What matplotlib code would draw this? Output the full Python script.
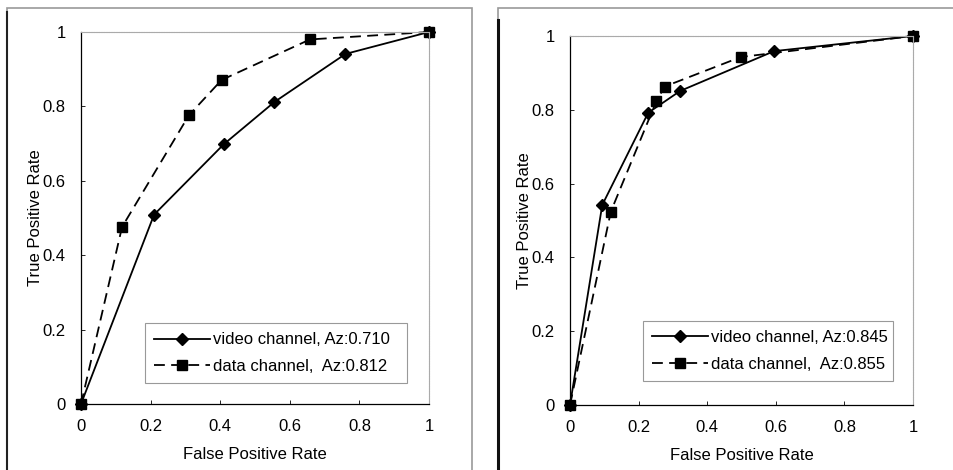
import matplotlib
matplotlib.use("Agg")
import matplotlib.pyplot as plt
from matplotlib.patches import Rectangle

plt.rcParams['font.family'] = ['Liberation Sans', 'DejaVu Sans']
plt.rcParams['font.size'] = 12

# ROC points
left_video_fpr = [0.0, 0.21, 0.41, 0.556, 0.76, 1.0]
left_video_tpr = [0.0, 0.509, 0.698, 0.812, 0.941, 1.0]
left_data_fpr = [0.0, 0.118, 0.31, 0.404, 0.658, 1.0]
left_data_tpr = [0.0, 0.476, 0.776, 0.871, 0.980, 1.0]

right_video_fpr = [0.0, 0.094, 0.228, 0.321, 0.595, 1.0]
right_video_tpr = [0.0, 0.542, 0.792, 0.851, 0.959, 1.0]
right_data_fpr = [0.0, 0.119, 0.252, 0.276, 0.498, 1.0]
right_data_tpr = [0.0, 0.524, 0.824, 0.863, 0.943, 1.0]

left_labels = ["video channel, Az:0.710", "data channel,  Az:0.812"]
right_labels = ["video channel, Az:0.845", "data channel,  Az:0.855"]

ticks = [0, 0.2, 0.4, 0.6, 0.8, 1]
tick_labels = ["0", "0.2", "0.4", "0.6", "0.8", "1"]

W, H = 954, 470
fig = plt.figure(figsize=(W / 100, H / 100), dpi=100)

# outer frames around each panel
fig.patches.append(Rectangle((7 / W, -0.1), (472 - 7) / W, 1.1 - 8 / H,
                             transform=fig.transFigure, fill=False,
                             edgecolor='#999999', lw=1.2))
fig.add_artist(plt.Line2D([7 / W, 7 / W], [0, 1 - 12 / H], color='#222222', lw=1.5))
fig.patches.append(Rectangle((498 / W, -0.1), 0.6, 1.1 - 8 / H,
                             transform=fig.transFigure, fill=False,
                             edgecolor='#999999', lw=1.2))
fig.add_artist(plt.Line2D([498 / W, 498 / W], [0, 1 - 20 / H], color='#111111', lw=2.2))


def draw_panel(rect, vx, vy, dx, dy, labels, leg_box, ylab_x):
    ax = fig.add_axes(rect)
    ax.plot(vx, vy, color='black', lw=1.3, marker='D', markersize=6,
            label=labels[0], clip_on=False)
    ax.plot(dx, dy, color='black', lw=1.3, linestyle=(0, (6, 3.5)), marker='s',
            markersize=7.5, label=labels[1], clip_on=False)
    ax.set_xlim(0, 1)
    ax.set_ylim(0, 1)
    ax.set_xticks(ticks)
    ax.set_yticks(ticks)
    ax.set_xticklabels(tick_labels)
    ax.set_yticklabels(tick_labels)
    ax.tick_params(direction='in', length=3, width=0.6, pad=11)
    for s in ['top', 'right']:
        ax.spines[s].set_color('#aaaaaa')
        ax.spines[s].set_linestyle((0, (1, 0.5)))
        ax.spines[s].set_linewidth(0.8)
    for s in ['left', 'bottom']:
        ax.spines[s].set_color('black')
        ax.spines[s].set_linewidth(0.9)
    ax.set_xlabel("False Positive Rate", labelpad=9)
    ax.set_ylabel("True Positive Rate")
    ax.yaxis.set_label_coords(ylab_x, 0.5)
    leg = ax.legend(loc='lower left', bbox_to_anchor=leg_box, mode='expand',
                    handlelength=3.35, handletextpad=0.15, fancybox=False,
                    framealpha=1, edgecolor='#999999', borderpad=0.55,
                    labelspacing=0.7, borderaxespad=0)
    leg.get_frame().set_linewidth(0.8)
    return ax


draw_panel([81 / W, (470 - 404) / H, 348 / W, 372 / H],
           left_video_fpr, left_video_tpr, left_data_fpr, left_data_tpr,
           left_labels, (0.184, 0.056, 0.753, 0.156), -0.108)
draw_panel([570 / W, (470 - 405) / H, 343 / W, 369 / H],
           right_video_fpr, right_video_tpr, right_data_fpr, right_data_tpr,
           right_labels, (0.213, 0.065, 0.729, 0.157), -0.11)

fig.savefig("out.png", dpi=100)
